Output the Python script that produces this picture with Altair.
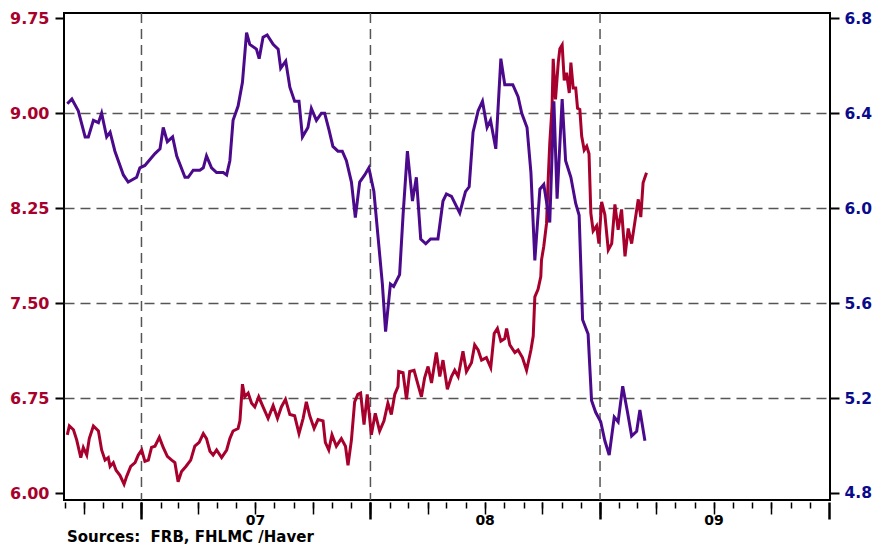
import altair as alt
import pandas as pd

# ---------------- data ----------------
# Red series (left axis), decimal year and value
red_t = [
    2006.676, 2006.685, 2006.703, 2006.717, 2006.735, 2006.746, 2006.761, 2006.772, 2006.790, 2006.812,
    2006.826, 2006.841, 2006.855, 2006.863, 2006.877, 2006.889, 2006.906, 2006.924, 2006.935, 2006.953,
    2006.972, 2006.986, 2007.001, 2007.015, 2007.030, 2007.044, 2007.059, 2007.078, 2007.095, 2007.113,
    2007.132, 2007.146, 2007.160, 2007.175, 2007.194, 2007.215, 2007.233, 2007.252, 2007.270, 2007.284,
    2007.299, 2007.313, 2007.328, 2007.350, 2007.372, 2007.386, 2007.400, 2007.422, 2007.430, 2007.441,
    2007.451, 2007.466, 2007.481, 2007.495, 2007.512, 2007.531, 2007.553, 2007.575, 2007.594, 2007.611,
    2007.629, 2007.648, 2007.669, 2007.688, 2007.706, 2007.720, 2007.735, 2007.754, 2007.771, 2007.793,
    2007.803, 2007.818, 2007.832, 2007.851, 2007.873, 2007.891, 2007.902, 2007.917, 2007.931, 2007.945,
    2007.957, 2007.972, 2007.986, 2008.004, 2008.021, 2008.040, 2008.059, 2008.076, 2008.091, 2008.106,
    2008.120, 2008.123, 2008.142, 2008.157, 2008.171, 2008.190, 2008.205, 2008.222, 2008.236, 2008.251,
    2008.266, 2008.287, 2008.302, 2008.316, 2008.335, 2008.353, 2008.367, 2008.382, 2008.403, 2008.418,
    2008.440, 2008.454, 2008.469, 2008.484, 2008.505, 2008.524, 2008.539, 2008.553, 2008.568, 2008.585,
    2008.593, 2008.607, 2008.629, 2008.643, 2008.662, 2008.680, 2008.699, 2008.709, 2008.716, 2008.730,
    2008.742, 2008.745, 2008.755, 2008.767, 2008.774, 2008.781, 2008.791, 2008.796, 2008.806, 2008.818,
    2008.825, 2008.835, 2008.844, 2008.854, 2008.866, 2008.873, 2008.883, 2008.894, 2008.902, 2008.912,
    2008.920, 2008.931, 2008.942, 2008.952, 2008.960, 2008.970, 2008.985, 2008.995, 2009.007, 2009.021,
    2009.036, 2009.051, 2009.065, 2009.079, 2009.094, 2009.109, 2009.123, 2009.138, 2009.152, 2009.167,
    2009.178, 2009.188, 2009.203,
]
red_v = [
    6.46, 6.53, 6.50, 6.42, 6.28, 6.36, 6.30, 6.43, 6.53, 6.49,
    6.34, 6.26, 6.28, 6.21, 6.24, 6.18, 6.14, 6.07, 6.13, 6.21,
    6.24, 6.30, 6.34, 6.25, 6.26, 6.36, 6.37, 6.44, 6.36, 6.29,
    6.26, 6.24, 6.09, 6.17, 6.21, 6.26, 6.37, 6.40, 6.47, 6.43,
    6.33, 6.30, 6.34, 6.28, 6.34, 6.43, 6.49, 6.51, 6.57, 6.86,
    6.76, 6.79, 6.71, 6.68, 6.76, 6.68, 6.59, 6.69, 6.59, 6.68,
    6.74, 6.62, 6.61, 6.47, 6.59, 6.72, 6.61, 6.51, 6.58, 6.57,
    6.40, 6.34, 6.46, 6.37, 6.43, 6.37, 6.22, 6.42, 6.72, 6.78,
    6.79, 6.54, 6.78, 6.46, 6.63, 6.49, 6.57, 6.71, 6.62, 6.78,
    6.84, 6.96, 6.95, 6.74, 6.96, 6.97, 6.87, 6.76, 6.91, 7.00,
    6.87, 7.11, 6.92, 7.05, 6.82, 6.92, 6.97, 6.92, 7.12, 6.96,
    7.03, 7.17, 7.13, 7.05, 7.07, 6.99, 7.26, 7.30, 7.20, 7.22,
    7.30, 7.17, 7.11, 7.13, 7.07, 6.97, 7.13, 7.24, 7.55, 7.61,
    7.71, 7.84, 7.95, 8.13, 8.47, 8.76, 9.05, 9.43, 9.11, 9.40,
    9.51, 9.54, 9.26, 9.32, 9.16, 9.40, 9.20, 9.20, 9.04, 9.03,
    8.82, 8.71, 8.74, 8.68, 8.21, 8.07, 8.11, 7.97, 8.30, 8.20,
    7.92, 7.97, 8.28, 8.08, 8.24, 7.87, 8.09, 7.97, 8.14, 8.32,
    8.18, 8.45, 8.53,
]

# Purple series (right axis), decimal year and value
purple_t = [
    2006.676, 2006.696, 2006.724, 2006.754, 2006.768, 2006.790, 2006.812, 2006.826, 2006.848, 2006.863,
    2006.884, 2006.921, 2006.942, 2006.979, 2006.993, 2007.015, 2007.059, 2007.081, 2007.095, 2007.113,
    2007.136, 2007.154, 2007.190, 2007.204, 2007.226, 2007.255, 2007.270, 2007.284, 2007.306, 2007.328,
    2007.357, 2007.372, 2007.386, 2007.400, 2007.422, 2007.441, 2007.459, 2007.473, 2007.502, 2007.514,
    2007.531, 2007.549, 2007.575, 2007.597, 2007.608, 2007.630, 2007.648, 2007.669, 2007.688, 2007.703,
    2007.727, 2007.742, 2007.764, 2007.786, 2007.800, 2007.819, 2007.836, 2007.858, 2007.877, 2007.895,
    2007.917, 2007.934, 2007.953, 2007.975, 2007.993, 2008.015, 2008.033, 2008.052, 2008.066, 2008.087,
    2008.101, 2008.127, 2008.142, 2008.161, 2008.183, 2008.200, 2008.219, 2008.241, 2008.262, 2008.294,
    2008.316, 2008.331, 2008.353, 2008.389, 2008.414, 2008.430, 2008.447, 2008.469, 2008.488, 2008.508,
    2008.523, 2008.546, 2008.568, 2008.585, 2008.620, 2008.643, 2008.659, 2008.682, 2008.699, 2008.716,
    2008.738, 2008.755, 2008.781, 2008.799, 2008.813, 2008.835, 2008.850, 2008.873, 2008.894, 2008.909,
    2008.924, 2008.948, 2008.963, 2008.981, 2009.003, 2009.021, 2009.040, 2009.062, 2009.079, 2009.099,
    2009.120, 2009.138, 2009.160, 2009.174, 2009.196,
]
purple_v = [
    6.44, 6.46, 6.41, 6.30, 6.30, 6.37, 6.36, 6.40, 6.30, 6.32,
    6.24, 6.14, 6.11, 6.13, 6.17, 6.18, 6.23, 6.25, 6.34, 6.28,
    6.30, 6.22, 6.13, 6.13, 6.16, 6.16, 6.17, 6.22, 6.17, 6.15,
    6.15, 6.14, 6.20, 6.37, 6.43, 6.53, 6.74, 6.69, 6.67, 6.63,
    6.72, 6.73, 6.69, 6.67, 6.59, 6.62, 6.51, 6.45, 6.45, 6.30,
    6.34, 6.42, 6.37, 6.40, 6.40, 6.33, 6.26, 6.24, 6.24, 6.20,
    6.11, 5.96, 6.11, 6.14, 6.17, 6.07, 5.88, 5.68, 5.48, 5.68,
    5.67, 5.72, 5.97, 6.24, 6.03, 6.13, 5.87, 5.85, 5.87, 5.87,
    6.03, 6.06, 6.05, 5.98, 6.07, 6.09, 6.32, 6.41, 6.45, 6.34,
    6.37, 6.25, 6.63, 6.52, 6.52, 6.47, 6.40, 6.34, 6.15, 5.78,
    6.08, 6.10, 5.94, 6.45, 6.04, 6.46, 6.20, 6.13, 6.02, 5.97,
    5.53, 5.47, 5.19, 5.14, 5.10, 5.02, 4.96, 5.12, 5.10, 5.25,
    5.14, 5.04, 5.06, 5.15, 5.02,
]

left_ticks = [6.00, 6.75, 7.50, 8.25, 9.00, 9.75]
right_ticks = [4.8, 5.2, 5.6, 6.0, 6.4, 6.8]
grid_years = [2007, 2008, 2009]
year_tick_years = [2007, 2008, 2009, 2010]
label_years = [2007, 2008, 2009]          # shown as "07", "08", "09"
source_text = "Sources:\u00a0 FRB, FHLMC /Haver"

# ---------------- helpers ----------------
def dec_to_ts(t):
    y = int(t)
    start = pd.Timestamp(year=y, month=1, day=1)
    end = pd.Timestamp(year=y + 1, month=1, day=1)
    return start + (end - start) * (t - y)

red_df = pd.DataFrame({"date": [dec_to_ts(t) for t in red_t], "value": red_v})
purple_df = pd.DataFrame({"date": [dec_to_ts(t) for t in purple_t], "value": purple_v})
grid_df = pd.DataFrame({"date": [pd.Timestamp(year=y, month=1, day=1) for y in grid_years]})
label_df = pd.DataFrame({"date": [pd.Timestamp(year=y, month=7, day=1) for y in label_years]})

month_ticks = [alt.DateTime(year=y, month=m, date=1)
               for y in range(2006, 2010) for m in range(1, 13) if (y, m) >= (2006, 9)]
quarter_ticks = [alt.DateTime(year=y, month=m, date=1)
                 for y in range(2006, 2010) for m in (1, 4, 7, 10) if (y, m) >= (2006, 10)]
year_ticks = [alt.DateTime(year=y, month=1, date=1) for y in year_tick_years]
label_ticks = [alt.DateTime(year=y, month=7, date=1) for y in label_years]

FONT = "DejaVu Sans"
RED = "#A8002C"
PURPLE = "#4B0A8C"
NAVY = "#0A0A8C"
GRID = "#555555"

x_scale = alt.Scale(domain=[alt.DateTime(year=2006, month=8, date=30, hours=12),
                            alt.DateTime(year=2010, month=1, date=2, hours=14)])
left_scale = alt.Scale(domain=[5.945, 9.792], nice=False, zero=False)
right_scale = alt.Scale(domain=[4.7705, 6.8223], nice=False, zero=False)

common_x = dict(orient="bottom", title=None, grid=False, domain=False, labels=False,
                tickColor="black", offset=2)

month_axis = alt.Axis(values=month_ticks, tickSize=6, tickWidth=1.5, **common_x)
quarter_axis = alt.Axis(values=quarter_ticks, tickSize=12, tickWidth=1.5, **common_x)
year_axis = alt.Axis(values=year_ticks, tickSize=17, tickWidth=2.5, **common_x)
label_axis = alt.Axis(values=label_ticks, format="%y", orient="bottom", title=None, grid=False,
                      domain=False, ticks=False, tickSize=0, labelPadding=13,
                      labelFont=FONT, labelFontSize=14, labelFontWeight="bold",
                      labelColor="black", labelOverlap=False, labelFlush=False)

left_axis = alt.Axis(orient="left", values=left_ticks, format=".2f", title=None,
                     domain=False, tickSize=9, tickWidth=2, tickColor="black",
                     labelPadding=6, labelFont=FONT, labelFontSize=16,
                     labelFontWeight="bold", labelColor=RED,
                     grid=True, gridDash=[10, 6], gridColor=GRID, gridWidth=1.5,
                     gridOpacity=alt.condition("datum.value < 6.1 || datum.value > 9.7",
                                               alt.value(0), alt.value(1)))
right_axis = alt.Axis(orient="right", values=right_ticks, format=".1f", title=None,
                      domain=False, grid=False, tickSize=9, tickWidth=2, tickColor="black",
                      labelPadding=5, labelFont=FONT, labelFontSize=15.5,
                      labelFontWeight="bold", labelColor=NAVY)

vlines = alt.Chart(grid_df).mark_rule(color=GRID, strokeWidth=1.5, strokeDash=[10, 6]).encode(
    x=alt.X("date:T", scale=x_scale, axis=year_axis)
)
red_line = alt.Chart(red_df).mark_line(color=RED, strokeWidth=3).encode(
    x=alt.X("date:T", scale=x_scale, axis=month_axis),
    y=alt.Y("value:Q", scale=left_scale, axis=left_axis),
)
purple_line = alt.Chart(purple_df).mark_line(color=PURPLE, strokeWidth=3).encode(
    x=alt.X("date:T", scale=x_scale, axis=quarter_axis),
    y=alt.Y("value:Q", scale=right_scale, axis=right_axis),
)
labels_layer = alt.Chart(label_df).mark_rule(opacity=0).encode(
    x=alt.X("date:T", scale=x_scale, axis=label_axis)
)

chart = (
    alt.layer(vlines, red_line, purple_line, labels_layer)
    .resolve_scale(y="independent")
    .resolve_axis(x="independent")
    .properties(
        width=766,
        height=487,
        padding={"left": 56, "top": 5, "right": 42, "bottom": 46},
        autosize=alt.AutoSizeParams(type="none"),
        title=alt.TitleParams(text=source_text, orient="bottom", anchor="start",
                              frame="group", font=FONT, fontSize=15, fontWeight="bold",
                              color="black", offset=3, dx=3),
    )
    .configure_view(stroke="black", strokeWidth=2)
)

chart.save("out.html", embed_options={"renderer": "svg", "actions": False})
